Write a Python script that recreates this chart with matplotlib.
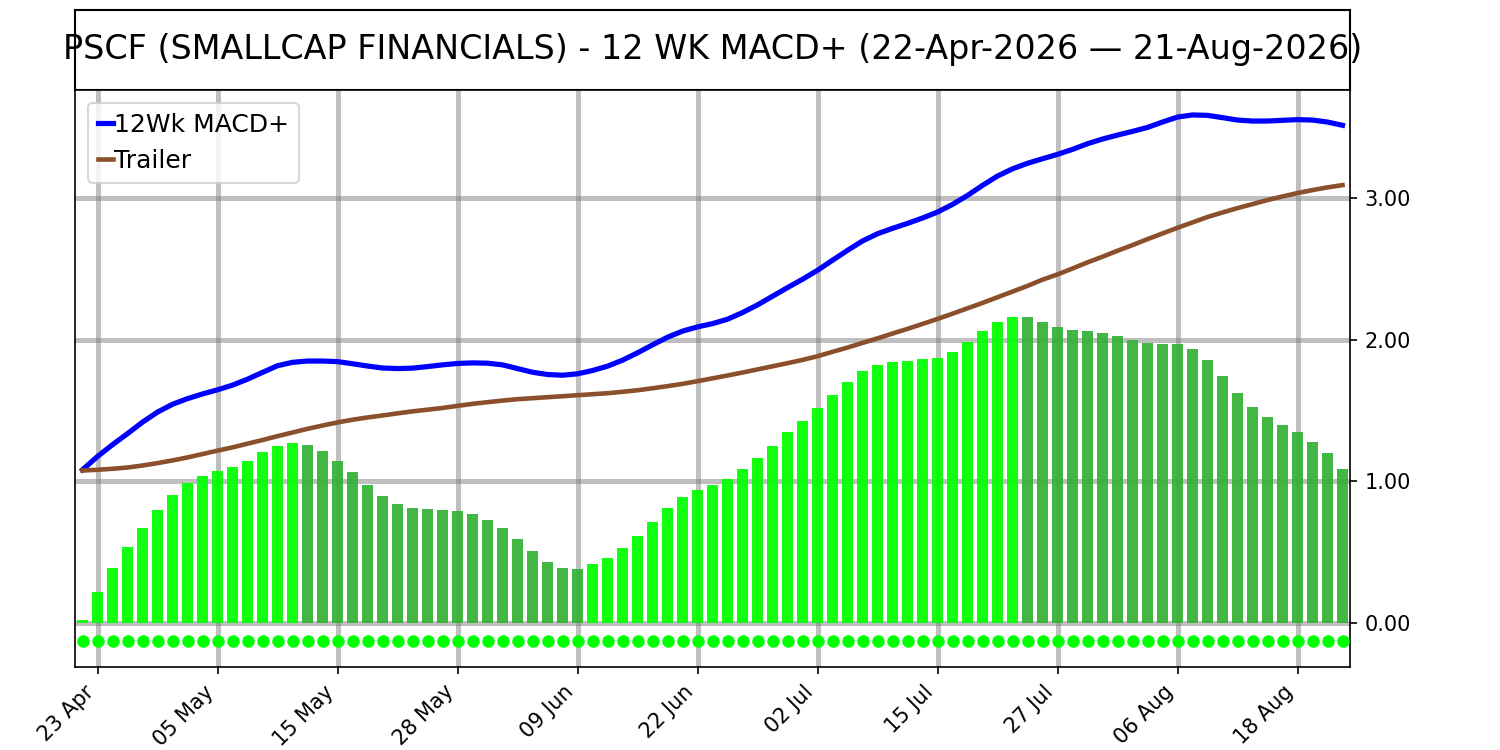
import numpy as np
import pandas as pd
import matplotlib
matplotlib.use("Agg")
import matplotlib.pyplot as plt

title = "PSCF (SMALLCAP FINANCIALS) - 12 WK MACD+ (22-Apr-2026 \u2014 21-Aug-2026)"
start_date = "2026-04-22"
end_date = "2026-08-21"
holidays = ["2026-05-25", "2026-06-19", "2026-07-03"]

macd = [1.081, 1.175, 1.258, 1.336, 1.417, 1.488, 1.543, 1.583, 1.616, 1.645, 1.678,
        1.720, 1.768, 1.815, 1.839, 1.848, 1.848, 1.844, 1.829, 1.813, 1.799, 1.795,
        1.798, 1.809, 1.821, 1.831, 1.835, 1.833, 1.821, 1.795, 1.769, 1.753, 1.748,
        1.758, 1.781, 1.812, 1.854, 1.906, 1.962, 2.016, 2.059, 2.089, 2.112,
        2.143, 2.190, 2.244, 2.305, 2.366, 2.425, 2.488, 2.559, 2.629, 2.695, 2.746,
        2.784, 2.819, 2.857, 2.899, 2.953, 3.016, 3.087, 3.153, 3.204, 3.243,
        3.275, 3.306, 3.341, 3.381, 3.414, 3.442, 3.468, 3.496, 3.534, 3.569, 3.584,
        3.581, 3.565, 3.548, 3.541, 3.541, 3.546, 3.551, 3.548, 3.534, 3.511]

trailer = [1.076, 1.081, 1.088, 1.097, 1.111, 1.128, 1.147, 1.168, 1.192, 1.216, 1.239,
           1.265, 1.291, 1.318, 1.344, 1.370, 1.393, 1.415, 1.434, 1.450, 1.464, 1.479,
           1.493, 1.505, 1.517, 1.532, 1.546, 1.558, 1.569, 1.579, 1.586, 1.593, 1.600,
           1.607, 1.614, 1.621, 1.631, 1.642, 1.656, 1.671, 1.687, 1.706, 1.726,
           1.746, 1.767, 1.789, 1.811, 1.833, 1.856, 1.882, 1.913, 1.943, 1.976, 2.008,
           2.042, 2.075, 2.110, 2.145, 2.182, 2.220, 2.258, 2.298, 2.338, 2.378,
           2.422, 2.459, 2.501, 2.544, 2.584, 2.626, 2.666, 2.708, 2.748, 2.788, 2.826,
           2.864, 2.896, 2.927, 2.955, 2.984, 3.009, 3.033, 3.054, 3.073, 3.089]

hist = [0.018, 0.217, 0.388, 0.537, 0.671, 0.799, 0.904, 0.990, 1.037, 1.074, 1.103,
        1.145, 1.203, 1.252, 1.273, 1.258, 1.216, 1.145, 1.066, 0.975, 0.896, 0.838,
        0.811, 0.804, 0.797, 0.787, 0.768, 0.726, 0.669, 0.591, 0.506, 0.428, 0.385,
        0.383, 0.414, 0.456, 0.527, 0.612, 0.712, 0.811, 0.889, 0.939, 0.972,
        1.017, 1.085, 1.161, 1.252, 1.344, 1.428, 1.517, 1.606, 1.698, 1.776, 1.818,
        1.839, 1.847, 1.860, 1.873, 1.910, 1.981, 2.059, 2.122, 2.162, 2.158,
        2.124, 2.090, 2.066, 2.061, 2.045, 2.024, 1.995, 1.974, 1.969, 1.967, 1.932,
        1.853, 1.741, 1.620, 1.521, 1.450, 1.400, 1.348, 1.280, 1.196, 1.089]

signal_level = -0.13

tick_labels = ["23 Apr", "05 May", "15 May", "28 May", "09 Jun", "22 Jun",
               "02 Jul", "15 Jul", "27 Jul", "06 Aug", "18 Aug"]

# trading-day axis
dates = pd.bdate_range(start_date, end_date)
dates = dates[~dates.isin(pd.to_datetime(holidays))]
x = np.arange(len(dates))
date_strs = [d.strftime("%d %b") for d in dates]
tick_pos = [date_strs.index(t) for t in tick_labels]

hist_arr = np.array(hist)
rising = np.r_[True, np.diff(hist_arr) > 0]
bar_colors = ["#00ff00" if r else "#34b234" for r in rising]

fig = plt.figure(figsize=(10, 5), dpi=150)

ax_t = fig.add_axes([0.05, 0.88, 0.85, 0.1067])
ax_t.set_xticks([])
ax_t.set_yticks([])
for s in ax_t.spines.values():
    s.set_linewidth(1.0)
ax_t.text(0.5, 0.5, title, ha="center", va="center", fontsize=16,
          transform=ax_t.transAxes, clip_on=False)

ax = fig.add_axes([0.05, 0.1107, 0.85, 0.7693])
ax.set_axisbelow(True)
ax.grid(True, color="gray", alpha=0.5, linewidth=2.4)

ax.bar(x, hist_arr, width=0.7, color=bar_colors, alpha=0.93, zorder=2)
ax.plot(x, np.full(len(x), signal_level), linestyle="none", marker="o",
        markersize=5, color="#00ff00", zorder=3)
ax.plot(x, macd, color="#0000ff", linewidth=2.5, label="12Wk MACD+", zorder=4)
ax.plot(x, trailer, color="#8b4f2b", linewidth=2.2, label="Trailer", zorder=4)

ax.set_xlim(-0.5, len(x) - 0.5)
ax.set_ylim(-0.31, 3.76)
ax.set_yticks([0, 1, 2, 3])
ax.set_yticklabels([f"{v:.2f}" for v in [0, 1, 2, 3]])
ax.yaxis.tick_right()
ax.tick_params(axis="y", labelsize=10)
ax.set_xticks(tick_pos)
ax.set_xticklabels(tick_labels, rotation=45, ha="right", fontsize=10)

ax.legend(loc="upper left", fontsize=12, handlelength=0.6, handletextpad=0.05,
          borderaxespad=0.5)

fig.savefig("out.png", dpi=150)
